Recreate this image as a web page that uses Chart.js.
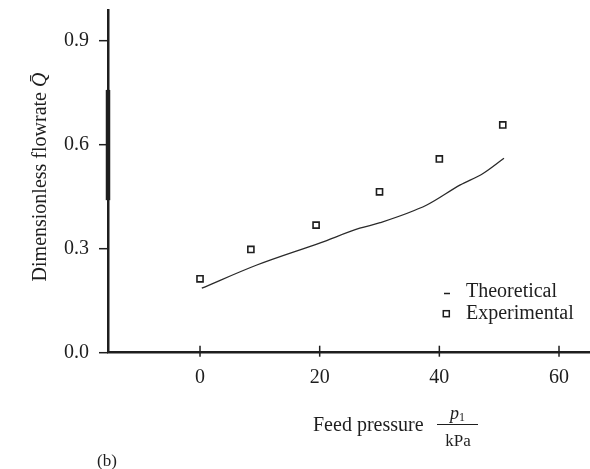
<!DOCTYPE html>
<html>
<head>
<meta charset="utf-8">
<script src="https://cdn.jsdelivr.net/npm/chart.js@4.4.1/dist/chart.umd.min.js"></script>
<style>
  html, body { margin: 0; padding: 0; background: #fff; }
  #chart { display: block; }
</style>
</head>
<body>
<canvas id="chart" width="590" height="469"></canvas>
<script>
const xTicks = [0, 20, 40, 60];
const yTicks = [0, 0.3, 0.6, 0.9];
const yTickLabels = ['0.0', '0.3', '0.6', '0.9'];

// measured points (feed pressure kPa, dimensionless flowrate)
const expPressure = [0, 8.5, 19.4, 30.0, 40.0, 50.6];
const expFlow = [0.213, 0.298, 0.368, 0.464, 0.559, 0.657];

// theoretical curve
const theoPressure = [0.3, 9.5, 20.1, 26.7, 30.1, 37.9, 43.5, 47.3, 50.8];
const theoFlow = [0.186, 0.253, 0.317, 0.359, 0.375, 0.426, 0.484, 0.517, 0.561];

const INK = '#1e1e1e';
const SERIF = "'Liberation Serif', 'Times New Roman', serif";

const toPoints = (xs, ys) => xs.map((x, i) => ({ x, y: ys[i] }));

function line(ctx, x1, y1, x2, y2) {
    ctx.beginPath();
    ctx.moveTo(x1, y1);
    ctx.lineTo(x2, y2);
    ctx.stroke();
}

// chart.js reserves room for half a tick label at the ends; the plot here runs to the edges
function noEdgePadding(s) {
    s.paddingTop = 0;
    s.paddingBottom = 0;
    s.paddingLeft = 0;
    s.paddingRight = 0;
}

const axisDecor = {
    id: 'axisDecor',
    afterDraw(chart) {
        const { ctx, chartArea, scales: { x, y } } = chart;
        ctx.save();
        ctx.strokeStyle = INK;
        ctx.lineWidth = 1.5;
        xTicks.forEach(v => {
            const px = x.getPixelForValue(v);
            line(ctx, px, chartArea.bottom - 7, px, chartArea.bottom + 4);
        });
        yTicks.forEach(v => {
            const py = y.getPixelForValue(v);
            line(ctx, chartArea.left - 9, py, chartArea.left, py);
        });
        // heavier ink where the printed axis is thicker
        ctx.lineWidth = 4.5;
        line(ctx, chartArea.left, y.getPixelForValue(0.758), chartArea.left, y.getPixelForValue(0.44));
        ctx.restore();
    },
};

const labels = {
    id: 'labels',
    afterDraw(chart) {
        const { ctx } = chart;
        ctx.save();
        ctx.fillStyle = INK;
        ctx.strokeStyle = INK;
        ctx.textBaseline = 'alphabetic';
        ctx.textAlign = 'left';

        // y axis title
        const main = 'Dimensionless flowrate ';
        ctx.save();
        ctx.translate(46, 177);
        ctx.rotate(-Math.PI / 2);
        ctx.font = `20px ${SERIF}`;
        const w1 = ctx.measureText(main).width;
        ctx.font = `italic 20px ${SERIF}`;
        const w2 = ctx.measureText('Q\u0304').width;
        const start = -(w1 + w2) / 2;
        ctx.font = `20px ${SERIF}`;
        ctx.fillText(main, start, 0);
        ctx.font = `italic 20px ${SERIF}`;
        ctx.fillText('Q\u0304', start + w1, 0);
        ctx.restore();

        // x axis title with fraction
        ctx.font = `20px ${SERIF}`;
        ctx.fillText('Feed pressure', 313, 431);
        ctx.font = `italic 18px ${SERIF}`;
        ctx.fillText('p', 450, 419);
        ctx.font = `12px ${SERIF}`;
        ctx.fillText('1', 459, 421);
        ctx.lineWidth = 1.2;
        line(ctx, 437, 424.5, 478, 424.5);
        ctx.font = `17px ${SERIF}`;
        ctx.textAlign = 'center';
        ctx.fillText('kPa', 458, 446);

        ctx.textAlign = 'left';
        ctx.fillText('(b)', 97, 466);

        // legend
        ctx.lineWidth = 1.5;
        line(ctx, 444, 293.5, 450, 293.5);
        ctx.strokeRect(443.3, 310.7, 6, 6);
        ctx.font = `20px ${SERIF}`;
        ctx.fillText('Theoretical', 466, 297);
        ctx.fillText('Experimental', 466, 319);
        ctx.restore();
    },
};

new Chart(document.getElementById('chart'), {
    type: 'scatter',
    data: {
        datasets: [
            {
                label: 'Theoretical',
                data: toPoints(theoPressure, theoFlow),
                showLine: true,
                borderColor: '#2a2a2a',
                borderWidth: 1.3,
                pointRadius: 0,
                cubicInterpolationMode: 'monotone',
                fill: false,
            },
            {
                label: 'Experimental',
                data: toPoints(expPressure, expFlow),
                showLine: false,
                pointStyle: 'rect',
                pointRadius: 4.3,
                pointBorderWidth: 1.6,
                pointBorderColor: INK,
                pointBackgroundColor: 'rgba(255,255,255,0)',
            },
        ],
    },
    options: {
        responsive: false,
        animation: false,
        events: [],
        // autoPadding would keep room for the point markers; the axes here run to the canvas edge
        layout: { autoPadding: false, padding: { top: 10, right: 0, bottom: 0, left: 0 } },
        plugins: {
            legend: { display: false },
            tooltip: { enabled: false },
        },
        scales: {
            x: {
                type: 'linear',
                min: -15.38,
                max: 65.18,
                grid: { display: false },
                border: { display: true, color: INK, width: 2.5 },
                afterBuildTicks: s => { s.ticks = xTicks.map(value => ({ value })); },
                afterFit: s => { s.height = 116.3; noEdgePadding(s); },
                ticks: {
                    color: INK,
                    padding: 5,
                    maxRotation: 0,
                    font: { family: SERIF, size: 20 },
                    callback: v => String(v),
                },
            },
            y: {
                type: 'linear',
                min: 0,
                max: 0.9885,
                grid: { display: false },
                border: { display: true, color: INK, width: 2.5 },
                afterBuildTicks: s => { s.ticks = yTicks.map(value => ({ value })); },
                afterFit: s => { s.width = 108; noEdgePadding(s); },
                ticks: {
                    color: INK,
                    padding: 11,
                    font: { family: SERIF, size: 20 },
                    callback: (v, i) => yTickLabels[i],
                },
            },
        },
    },
    plugins: [axisDecor, labels],
});
</script>
</body>
</html>
